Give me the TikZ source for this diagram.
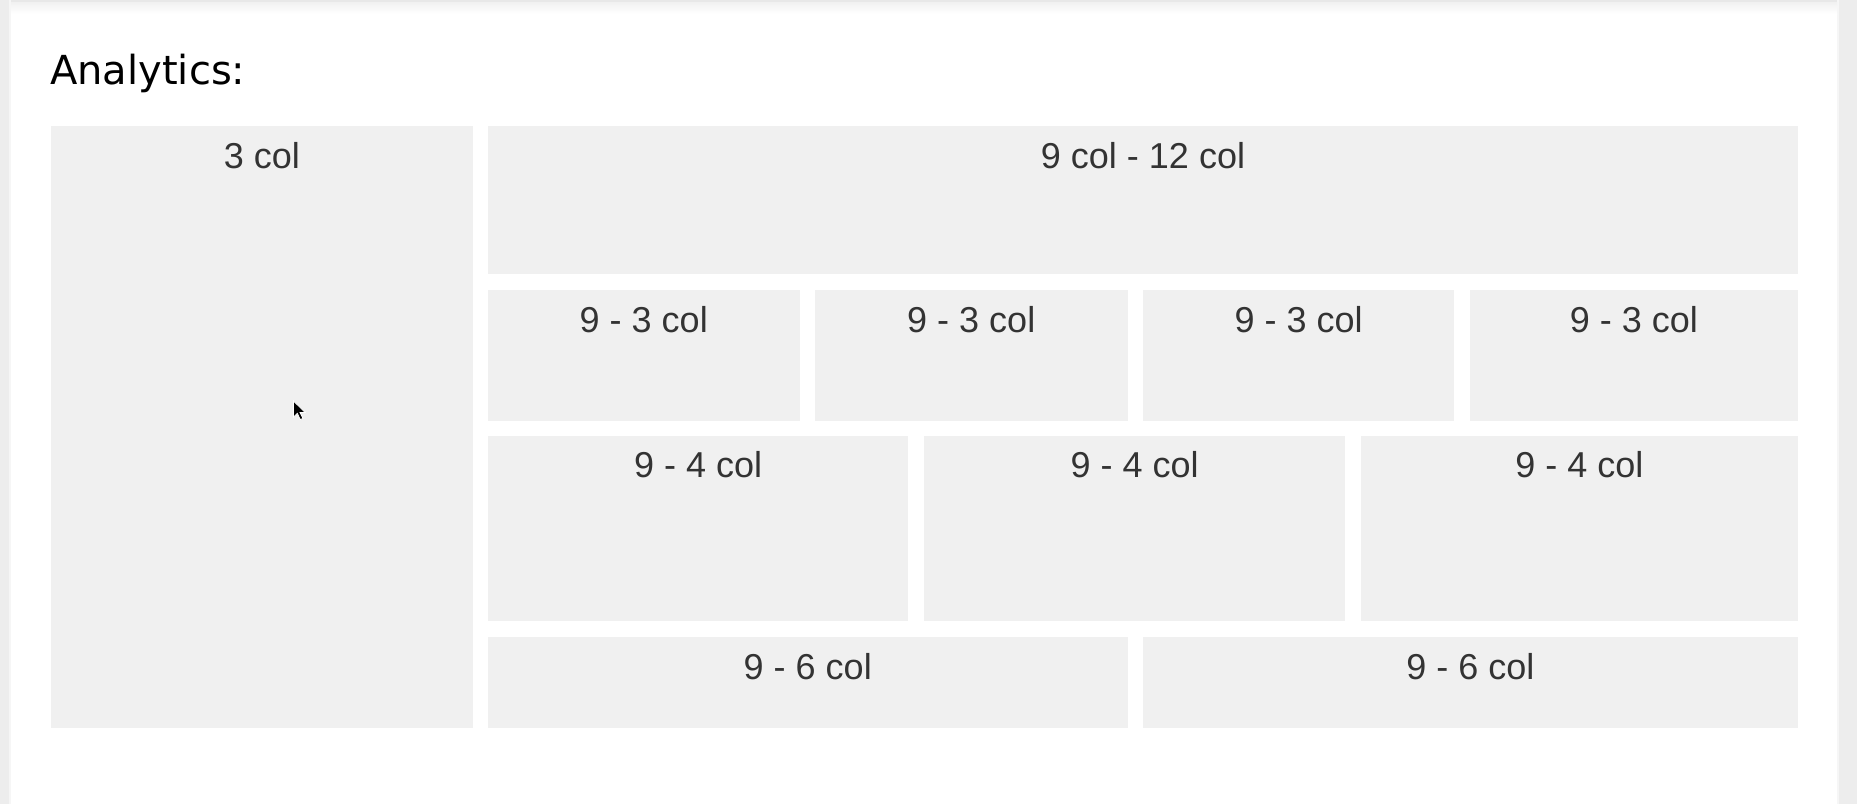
\documentclass[tikz,border=0pt]{standalone}
\usepackage{fontspec}
\setmainfont{Liberation Sans}
\newfontfamily\dejavu{DejaVu Sans}
\definecolor{cellgray}{HTML}{F0F0F0}
\definecolor{celltext}{HTML}{333333}
\definecolor{edgegray}{HTML}{E8E8E8}
\tikzset{
  cellbox/.style={fill=cellgray, draw=none},
  celllabel/.style={anchor=base, inner sep=0pt, text=celltext, font=\fontsize{36}{40}\selectfont},
}
\newcommand{\gridcell}[6]{%
  \fill[cellbox] (#2,#3) rectangle (#4,#5);
  \node[celllabel] (#1) at ({(#2+#4)/2},{#3+42}) {#6};
}
\begin{document}
\begin{tikzpicture}[x=1pt,y=-1pt]
\useasboundingbox (0,0) rectangle (1857,804);
\fill[white] (0,0) rectangle (1857,804);
% page edges
\fill[edgegray!80] (0,0) rectangle (9,804);
\fill[edgegray!40] (9,0) rectangle (11,804);
\fill[edgegray!80] (1839,0) rectangle (1857,804);
\fill[edgegray!40] (1837,0) rectangle (1839,804);
\fill[edgegray] (11,0) rectangle (1837,2);
\shade[top color=edgegray!60, bottom color=white] (11,2) rectangle (1837,14);
% title
\node[anchor=base west, inner sep=0pt, font=\dejavu\fontsize{40}{44}\selectfont] (title) at (50,84) {Analytics:};
% left column
\gridcell{c3}{51}{126}{473}{727.7}{3 col}
% row 1
\gridcell{r1}{488}{126}{1798}{273.7}{9 col - 12 col}
% row 2
\gridcell{r2a}{488}{290}{799.5}{420.7}{9 - 3 col}
\gridcell{r2b}{815}{290}{1127.5}{420.7}{9 - 3 col}
\gridcell{r2c}{1143}{290}{1454.3}{420.7}{9 - 3 col}
\gridcell{r2d}{1469.7}{290}{1798}{420.7}{9 - 3 col}
% row 3
\gridcell{r3a}{488}{435.7}{908.4}{620.7}{9 - 4 col}
\gridcell{r3b}{923.8}{435.7}{1345.4}{620.7}{9 - 4 col}
\gridcell{r3c}{1360.8}{435.7}{1798}{620.7}{9 - 4 col}
% row 4
\gridcell{r4a}{488}{637}{1127.5}{727.7}{9 - 6 col}
\gridcell{r4b}{1142.8}{637}{1798}{727.7}{9 - 6 col}
% mouse pointer
\filldraw[fill=black, draw=white, line width=0.8pt, line join=miter]
  (293.5,401) -- ++(0,16) -- ++(3.8,-3.6) -- ++(3,6.2) -- ++(2.6,-1.2) -- ++(-3,-6) -- ++(5.2,0) -- cycle;
\end{tikzpicture}
\end{document}
